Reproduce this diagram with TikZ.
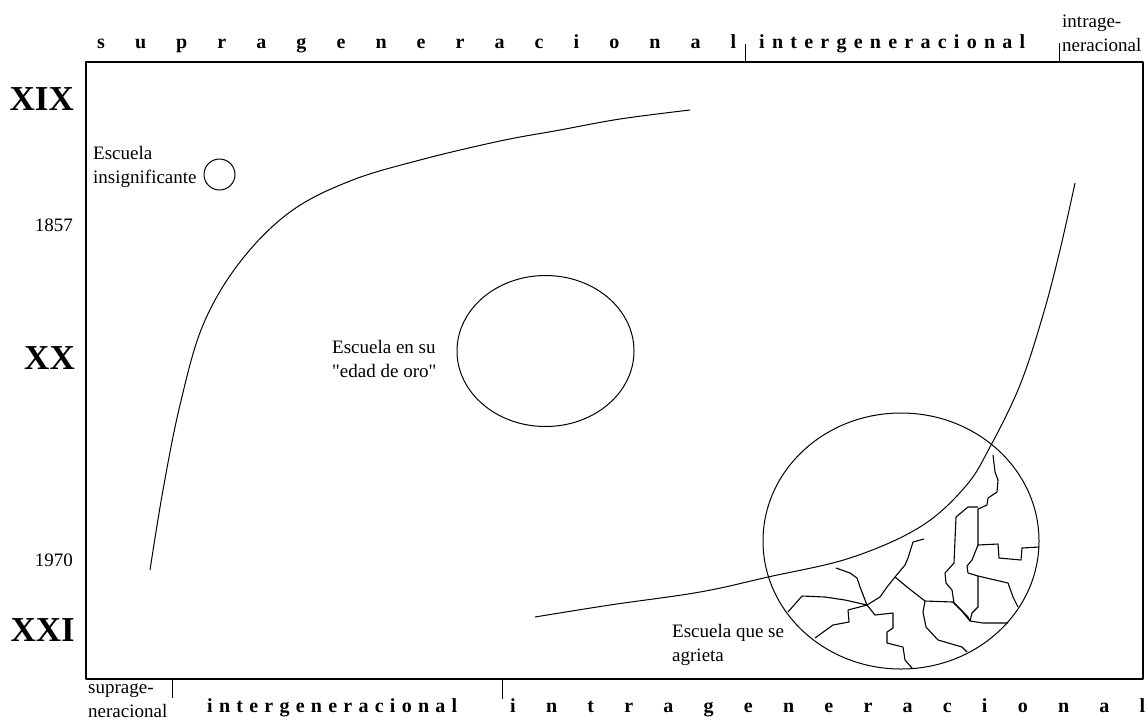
\documentclass[tikz,border=0pt]{standalone}
\usepackage{fontspec}
\setmainfont{Liberation Serif}
\newfontfamily\recta{Liberation Serif}[Ligatures=TeXOff]
\usetikzlibrary{positioning}

\begin{document}
\begin{tikzpicture}[x=1pt, y=-1pt, line join=round,
	txt/.style={font=\fontsize{19}{24}\selectfont, inner sep=0pt, align=left, anchor=north west},
	siglo/.style={font=\fontsize{35}{40}\selectfont\bfseries, inner sep=0pt, anchor=base east},
	anio/.style={font=\fontsize{19}{24}\selectfont, inner sep=0pt, anchor=base east},
	franja/.style={font=\fontsize{20}{24}\selectfont\bfseries, inner sep=0pt, anchor=base west},
	marco/.style={line width=1.5pt},
	curva/.style={line width=1pt},
	grieta/.style={line width=1.1pt}]

	\useasboundingbox (0,0) rectangle (1148,724);

	% marco
	\coordinate (NO) at (86,62);
	\coordinate (SE) at (1143,679);
	\draw[marco] (NO) rectangle (SE);

	% marcas arriba y abajo
	\coordinate (tA) at (745,62);	\coordinate (tA') at (745,44);
	\coordinate (tB) at (1059,62);	\coordinate (tB') at (1059,43);
	\coordinate (bA) at (172,679);	\coordinate (bA') at (172,698);
	\coordinate (bB) at (502,679);	\coordinate (bB') at (502,699);
	\draw[curva] (tA) -- (tA');
	\draw[curva] (tB) -- (tB');
	\draw[curva] (bA) -- (bA');
	\draw[curva] (bB) -- (bB');

	% franjas
	\node[franja] (supraT) at (97,48)
		{\makebox[639pt][s]{s\hfill u\hfill p\hfill r\hfill a\hfill g\hfill e\hfill n\hfill e\hfill r\hfill a\hfill c\hfill i\hfill o\hfill n\hfill a\hfill l}};
	\node[franja] (interT) at (759,48)
		{\makebox[266pt][s]{i\hfill n\hfill t\hfill e\hfill r\hfill g\hfill e\hfill n\hfill e\hfill r\hfill a\hfill c\hfill i\hfill o\hfill n\hfill a\hfill l}};
	\node[txt] (intraT) at (1062,15) {intrage-\\neracional};
	\node[txt] (supraB) at (88,684) {suprage-\\neracional};
	\node[franja] (interB) at (207,712)
		{\makebox[250pt][s]{i\hfill n\hfill t\hfill e\hfill r\hfill g\hfill e\hfill n\hfill e\hfill r\hfill a\hfill c\hfill i\hfill o\hfill n\hfill a\hfill l}};
	\node[franja] (intraB) at (510,712)
		{\makebox[635pt][s]{i\hfill n\hfill t\hfill r\hfill a\hfill g\hfill e\hfill n\hfill e\hfill r\hfill a\hfill c\hfill i\hfill o\hfill n\hfill a\hfill l}};

	% siglos y fechas
	\node[siglo] (XIX) at (74,110) {XIX};
	\node[anio] (a1857) at (73,231) {1857};
	\node[siglo] (XX) at (75,369) {XX};
	\node[anio] (a1970) at (73,566) {1970};
	\node[siglo] (XXI) at (75,641) {XXI};

	% escuelas
	\draw[curva] (219.5,174.5) circle[radius=15.5];
	\node[txt] (insig) at (93,146) {Escuela\\insignificante};
	\draw[curva] (545.5,351) ellipse[x radius=88.5, y radius=75.5];
	\node[txt] (oro) at (332,340) {Escuela en su\\{\recta"}edad de oro{\recta"}};
	\draw[curva] (901,541) ellipse[x radius=138, y radius=128];
	\node[txt] (agr) at (672,624) {Escuela que se\\agrieta};

	% curvas
	\draw[curva] plot[smooth, tension=0.6] coordinates {(150,570) (163,490) (180,405) (203,325) (240,262)
		(290,212) (350,181) (420,160) (500,141) (560,130) (620,119) (690,110)};
	\draw[curva] plot[smooth, tension=0.6] coordinates {(535,617) (610,605) (700,592) (768,577) (850,558)
		(920,527) (965,487) (990,447) (1020,385) (1043,315) (1060,250) (1075,183)};

	% grietas
	\draw[grieta] (993,455) -- (995,472) -- (998,480) -- (997,492) -- (988,498) -- (987,505) -- (978,509) -- (978,545)
		-- (998,544) -- (999,558) -- (1021,560) -- (1022,548) -- (1039,547);
	\draw[grieta] (978,545) -- (972,560) -- (967,566) -- (968,573) -- (978,576) -- (1008,583) -- (1013,597) -- (1018,607);
	\draw[grieta] (978,576) -- (978,607) -- (972,613) -- (970,621) -- (983,623) -- (1008,623);
	\draw[grieta] (978,507) -- (968,507) -- (956,517) -- (954,563) -- (945,573) -- (946,583) -- (952,590)
		-- (954,603) -- (961,610) -- (970,621);
	\draw[grieta] (924,539) -- (913,542) -- (908,558) -- (905,565) -- (895,577) -- (907,587) -- (925,601)
		-- (953,602) -- (968,617) -- (970,621);
	\draw[grieta] (925,601) -- (923,612) -- (926,627) -- (938,640) -- (962,647) -- (967,652);
	\draw[grieta] (895,577) -- (887,587) -- (880,597) -- (867,605);
	\draw[grieta] (836,568) -- (850,573) -- (857,578) -- (860,587) -- (867,605) -- (875,615) -- (893,613)
		-- (893,628) -- (887,632) -- (887,643) -- (903,647) -- (905,660) -- (912,668);
	\draw[grieta] (867,605) -- (848,610) -- (849,622) -- (833,625) -- (815,638);
	\draw[grieta] (867,605) -- (845,600) -- (825,597) -- (802,596) -- (788,612);

\end{tikzpicture}
\end{document}
